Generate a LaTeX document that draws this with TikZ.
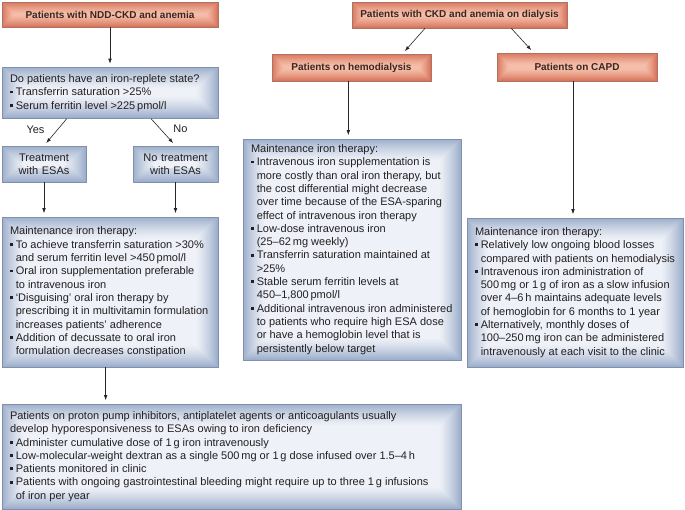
\documentclass[tikz,border=0pt]{standalone}
\usepackage{fontspec}
\setmainfont{Liberation Sans}
\usetikzlibrary{arrows.meta,calc}
\definecolor{salIn}{HTML}{F5BEA9}
\definecolor{salOut}{HTML}{D8765D}
\definecolor{salLine}{HTML}{B07262}
\definecolor{bluIn}{HTML}{EEF1F7}
\definecolor{bluOut}{HTML}{9DAFCC}
\definecolor{bluLine}{HTML}{8291AA}
\definecolor{txt}{HTML}{231F20}
\definecolor{hdrtxt}{HTML}{3A2520}
\newcommand\bul{\par\noindent\makebox[5.8pt][l]{\rule[2.4pt]{2.9pt}{2.9pt}}}
\newcommand\nl{\hfil\break\hspace*{5.8pt}}
\newcommand\plainnl{\hfil\break}
\tikzset{
  glow/.style n args={3}{path picture={
    \foreach \i in {0,...,#3}{
      \pgfmathtruncatemacro\p{100*(1-\i/#3)^1.3}
      \fill[#1!\p!#2] ($(path picture bounding box.south west)+(\i*1pt,\i*1pt)$) rectangle ($(path picture bounding box.north east)-(\i*1pt,\i*1pt)$);
    }}},
  hdr/.style={draw=salLine, line width=0.6pt, glow={salOut}{salIn}{12},
    font=\fontsize{10}{12}\selectfont\bfseries, text=hdrtxt, inner sep=0pt, align=center},
  info/.style={draw=bluLine, line width=0.6pt, glow={bluOut}{bluIn}{22},
    font=\fontsize{11}{13.3}\selectfont, text=txt, inner xsep=8pt, inner ysep=2pt, align=flush left},
  infoc/.style={info, align=center},
  lbl/.style={font=\fontsize{11}{13}\selectfont, text=txt, inner sep=0pt},
  arr/.style={-{Latex[length=5pt,width=3.6pt]}, line width=0.6pt, black!85, shorten >=3.5pt},
}
\begin{document}
\begin{tikzpicture}[x=1pt,y=-1pt]
\useasboundingbox (0,0) rectangle (685,510);
% headers
\node[hdr, minimum width=216pt, minimum height=25pt] (ndd) at (110,14.5) {Patients with NDD-CKD and anemia};
\node[hdr, minimum width=215pt, minimum height=26pt] (dia) at (459.5,15) {Patients with CKD and anemia on dialysis};
\node[hdr, minimum width=159pt, minimum height=27pt] (hemo) at (351.5,67.5) {Patients on hemodialysis};
\node[hdr, minimum width=160pt, minimum height=28pt] (capd) at (577,67) {Patients on CAPD};
% info boxes
\node[info, text width=200pt, minimum height=51pt] (q) at (110,93) {\noindent Do patients have an iron-replete state?
\bul Transferrin saturation >25\%
\bul Serum ferritin level >225\,pmol/l};
\node[infoc, text width=70pt, inner xsep=7pt, minimum height=36pt] (yes) at (44,164) {Treatment\\with ESAs};
\node[infoc, text width=71pt, inner xsep=7pt, minimum height=36pt] (no) at (175.5,164) {No treatment\\with ESAs};
\node[info, text width=200pt, minimum height=150pt] (maintL) at (110,292) {\noindent Maintenance iron therapy:
\bul To achieve transferrin saturation >30\%\nl and serum ferritin level >450\,pmol/l
\bul Oral iron supplementation preferable\nl to intravenous iron
\bul ‘Disguising’ oral iron therapy by\nl prescribing it in multivitamin formulation\nl increases patients’ adherence
\bul Addition of decussate to oral iron\nl formulation decreases constipation};
\node[info, text width=202pt, minimum height=221pt] (maintH) at (352,249.5) {\noindent Maintenance iron therapy:
\bul Intravenous iron supplementation is\nl more costly than oral iron therapy, but\nl the cost differential might decrease\nl over time because of the ESA-sparing\nl effect of intravenous iron therapy
\bul Low-dose intravenous iron\nl (25–62\,mg weekly)
\bul Transferrin saturation maintained at\nl >25\%
\bul Stable serum ferritin levels at\nl 450–1,800\,pmol/l
\bul Additional intravenous iron administered\nl to patients who require high ESA dose\nl or have a hemoglobin level that is\nl persistently below target};
\node[info, text width=200pt, minimum height=149pt] (maintC) at (575,292.5) {\noindent Maintenance iron therapy:
\bul Relatively low ongoing blood losses\nl compared with patients on hemodialysis
\bul Intravenous iron administration of\nl 500\,mg or 1\,g of iron as a slow infusion\nl over 4–6\,h maintains adequate levels\nl of hemoglobin for 6 months to 1 year
\bul Alternatively, monthly doses of\nl 100–250\,mg iron can be administered\nl intravenously at each visit to the clinic};
\node[info, text width=443pt, minimum height=105pt] (ppi) at (231.5,456.5) {\noindent Patients on proton pump inhibitors, antiplatelet agents or anticoagulants usually\plainnl develop hyporesponsiveness to ESAs owing to iron deficiency
\bul Administer cumulative dose of 1\,g iron intravenously
\bul Low-molecular-weight dextran as a single 500\,mg or 1\,g dose infused over 1.5–4\,h
\bul Patients monitored in clinic
\bul Patients with ongoing gastrointestinal bleeding might require up to three 1\,g infusions\nl of iron per year};
% labels
\node[lbl] (yl) at (35.5,129.5) {Yes};
\node[lbl] (nl) at (180.5,128.5) {No};
% connectors
\coordinate (qy) at ($(q.south west)!0.3!(q.south east)$);
\coordinate (qn) at ($(q.south west)!0.69!(q.south east)$);
\coordinate (mL) at ($(maintL.south west)!0.48!(maintL.south east)$);
\coordinate (dh) at ($(dia.south west)!0.34!(dia.south east)$);
\coordinate (dc) at ($(dia.south west)!0.74!(dia.south east)$);
\coordinate (hs) at ($(hemo.south west)!0.48!(hemo.south east)$);
\coordinate (cs) at ($(capd.south west)!0.475!(capd.south east)$);
\draw[arr] (ndd.south) -- (q.north);
\draw[arr] (qy) -- (yes.north);
\draw[arr] (qn) -- (no.north);
\draw[arr] (yes.south) -- (yes.south |- maintL.north);
\draw[arr] (no.south) -- (no.south |- maintL.north);
\draw[arr] (mL) -- (mL |- ppi.north);
\draw[arr] (dh) -- ($(hemo.north west)!0.82!(hemo.north east)$);
\draw[arr] (dc) -- ($(capd.north west)!0.23!(capd.north east)$);
\draw[arr] (hs) -- (hs |- maintH.north);
\draw[arr] (cs) -- (cs |- maintC.north);
\end{tikzpicture}
\end{document}
